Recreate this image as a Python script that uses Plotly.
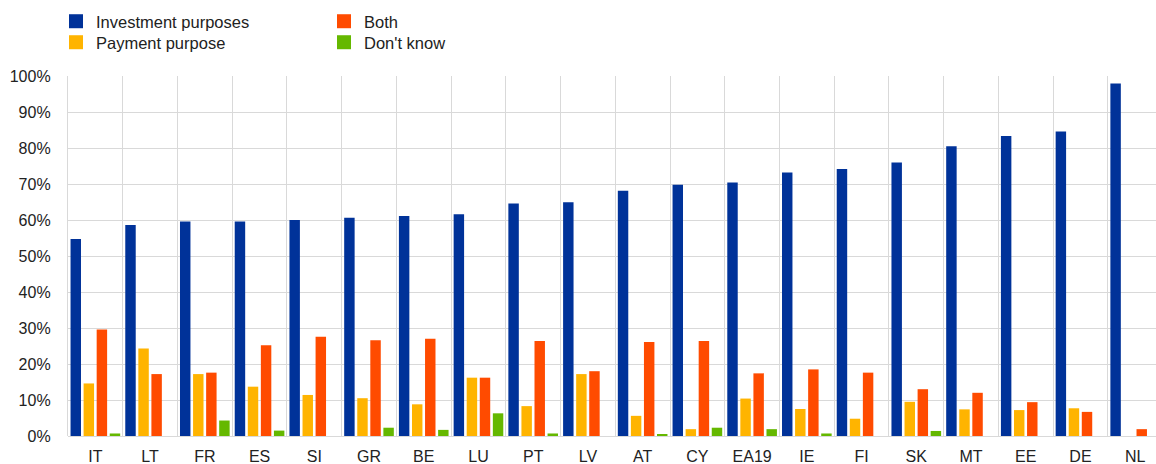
import plotly.graph_objects as go

countries = ["IT", "LT", "FR", "ES", "SI", "GR", "BE", "LU", "PT", "LV",
             "AT", "CY", "EA19", "IE", "FI", "SK", "MT", "EE", "DE", "NL"]

investment = [54.7, 58.6, 59.6, 59.6, 60.0, 60.6, 61.1, 61.6, 64.6, 64.9,
              68.1, 69.8, 70.4, 73.2, 74.2, 76.0, 80.5, 83.3, 84.6, 97.9]
payment = [14.6, 24.3, 17.2, 13.7, 11.4, 10.5, 8.8, 16.2, 8.3, 17.2,
           5.6, 1.9, 10.4, 7.5, 4.8, 9.5, 7.4, 7.2, 7.7, 0.0]
both = [29.6, 17.2, 17.6, 25.2, 27.6, 26.6, 27.0, 16.2, 26.4, 18.0,
        26.1, 26.4, 17.4, 18.5, 17.6, 13.0, 12.0, 9.4, 6.7, 1.9]
dont_know = [0.7, 0.0, 4.3, 1.5, 0.0, 2.3, 1.7, 6.3, 0.7, 0.0,
             0.4, 2.3, 1.9, 0.7, 0.0, 1.4, 0.0, 0.0, 0.0, 0.0]

series_names = ["Investment purposes", "Payment purpose", "Both", "Don't know"]
series_values = [investment, payment, both, dont_know]
series_colors = ["#003299", "#FFB400", "#FF4B00", "#65B800"]
# legend slot for each series: (legend id, left px, top px)
legend_slots = [("legend", 56, 4), ("legend2", 56, 25),
                ("legend3", 324, 4), ("legend4", 324, 25)]

W, H = 1156, 464
font_family = "Liberation Sans, Arial, sans-serif"
text_color = "#222222"
grid_color = "#d9d9d9"

fig = go.Figure()
for name, vals, color in zip(series_names, series_values, series_colors):
    fig.add_trace(go.Bar(
        x=countries, y=vals, name=name, showlegend=False,
        marker=dict(color=color, line=dict(width=0)),
    ))

# square legend keys
legend_layout = {}
for (lid, lx, ly), name, color in zip(legend_slots, series_names, series_colors):
    fig.add_trace(go.Scatter(
        x=[None], y=[None], mode="markers", name=name, legend=lid,
        marker=dict(symbol="square", size=14, color=color),
        hoverinfo="skip",
    ))
    legend_layout[lid] = dict(
        x=lx / W, y=1 - ly / H, xref="container", yref="container",
        xanchor="left", yanchor="top", orientation="v",
        font=dict(size=16.5, color=text_color, family=font_family),
        bgcolor="rgba(0,0,0,0)", itemclick=False, itemdoubleclick=False,
    )

fig.update_layout(
    width=W, height=H,
    margin=dict(l=68, r=0, t=76, b=28, autoexpand=False),
    paper_bgcolor="white", plot_bgcolor="white",
    barmode="group", bargap=0.045, bargroupgap=0.2,
    font=dict(family=font_family, size=16, color=text_color),
    showlegend=True,
    xaxis=dict(
        range=[-0.5, 19.38], automargin=False, tickangle=0,
        showgrid=True, gridcolor=grid_color, gridwidth=1.3,
        tickson="boundaries", ticks="", showline=False,
        ticklabelstandoff=9,
        tickfont=dict(size=16, color=text_color),
    ),
    yaxis=dict(
        range=[0, 100], dtick=10, ticksuffix="%", automargin=False,
        showgrid=True, gridcolor=grid_color, gridwidth=1.3,
        zeroline=True, zerolinecolor=grid_color, zerolinewidth=1.3,
        showline=True, linecolor=grid_color, linewidth=1.3,
        ticks="", ticklabelstandoff=13,
        tickfont=dict(size=16, color=text_color),
    ),
    **legend_layout,
)

fig.write_html("out.html")
